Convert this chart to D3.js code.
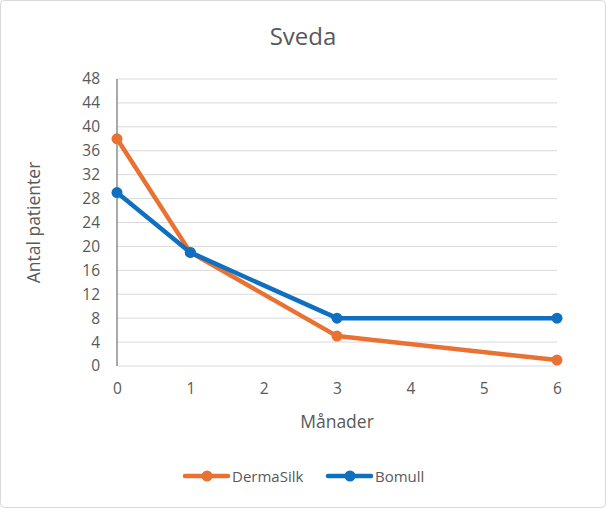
<!DOCTYPE html>
<html><head><meta charset="utf-8">
<script src="https://cdn.jsdelivr.net/npm/d3@7"></script>
<style>
html,body{margin:0;padding:0;background:#fff;}
svg{display:block;font-family:"Open Sans","Noto Sans",sans-serif;}
</style></head>
<body>
<svg id="chart" width="606" height="508"></svg>
<script>
const months = [0, 1, 3, 6];
const xTicks = [0, 1, 2, 3, 4, 5, 6];
const yTicks = [0, 4, 8, 12, 16, 20, 24, 28, 32, 36, 40, 44, 48];
const dermaSilk = [38, 19, 5, 1];
const bomull = [29, 19, 8, 8];
const seriesNames = ["DermaSilk", "Bomull"];
const colors = ["#E97132", "#0F6FC1"];

const svg = d3.select("#chart");
svg.append("rect").attr("x", 0.5).attr("y", 0.5).attr("width", 605).attr("height", 507)
  .attr("rx", 4).attr("fill", "#fff").attr("stroke", "#d9d9d9");

const x = d3.scaleLinear().domain([0, 6]).range([117, 557]);
const y = d3.scaleLinear().domain([0, 48]).range([366, 79]);

// gridlines
svg.append("g").selectAll("line").data(yTicks).join("line")
  .attr("x1", x(0)).attr("x2", x(6))
  .attr("y1", d => y(d)).attr("y2", d => y(d))
  .attr("stroke", "#d9d9d9").attr("stroke-width", 1);

// y axis labels
const yAxis = svg.append("g").attr("transform", `translate(${x(0)},0)`)
  .call(d3.axisLeft(y).tickValues(yTicks).tickSize(0).tickPadding(17));
yAxis.select(".domain").remove();
yAxis.selectAll("text").attr("fill", "#595959").style("font-size", "15.5px")
  .style("font-family", "'Open Sans','Noto Sans',sans-serif");

// x axis labels
const xAxis = svg.append("g").attr("transform", `translate(0,${y(0)})`)
  .call(d3.axisBottom(x).tickValues(xTicks).tickFormat(d3.format("d")).tickSize(0).tickPadding(17));
xAxis.select(".domain").remove();
xAxis.selectAll("text").attr("fill", "#595959").style("font-size", "15.5px")
  .style("font-family", "'Open Sans','Noto Sans',sans-serif");

// vertical axis line
svg.append("line").attr("x1", x(0)).attr("x2", x(0)).attr("y1", y(48)).attr("y2", y(0))
  .attr("stroke", "#8c8c8c").attr("stroke-width", 1.5);

// lines
const data = [dermaSilk, bomull];
const line = d3.line().x((d, i) => x(months[i])).y(d => y(d));
data.forEach((vals, si) => {
  svg.append("path").datum(vals).attr("d", line)
    .attr("fill", "none").attr("stroke", colors[si]).attr("stroke-width", 4.5)
    .attr("stroke-linejoin", "round").attr("stroke-linecap", "round");
  svg.append("g").selectAll("circle").data(vals).join("circle")
    .attr("cx", (d, i) => x(months[i])).attr("cy", d => y(d)).attr("r", 5.5)
    .attr("fill", colors[si]);
});

// title
svg.append("text").attr("x", 303).attr("y", 45).attr("text-anchor", "middle")
  .attr("fill", "#595959").style("font-size", "24px").text("Sveda");

// axis titles
svg.append("text").attr("transform", `translate(40,${(y(0)+y(48))/2}) rotate(-90)`)
  .attr("text-anchor", "middle").attr("fill", "#595959").style("font-size", "17.5px")
  .text("Antal patienter");
svg.append("text").attr("x", (x(0)+x(6))/2).attr("y", 428).attr("text-anchor", "middle")
  .attr("fill", "#595959").style("font-size", "17.5px").text("Månader");

// legend
const legendX = [185, 328];
seriesNames.forEach((name, i) => {
  const g = svg.append("g").attr("transform", `translate(${legendX[i]},476)`);
  g.append("line").attr("x1", 0).attr("x2", 43).attr("y1", 0).attr("y2", 0)
    .attr("stroke", colors[i]).attr("stroke-width", 4.5).attr("stroke-linecap", "round");
  g.append("circle").attr("cx", 22).attr("cy", 0).attr("r", 5.5).attr("fill", colors[i]);
  g.append("text").attr("x", 47).attr("y", 5.5).attr("fill", "#595959")
    .style("font-size", "15px").text(name);
});
</script>
</body></html>
